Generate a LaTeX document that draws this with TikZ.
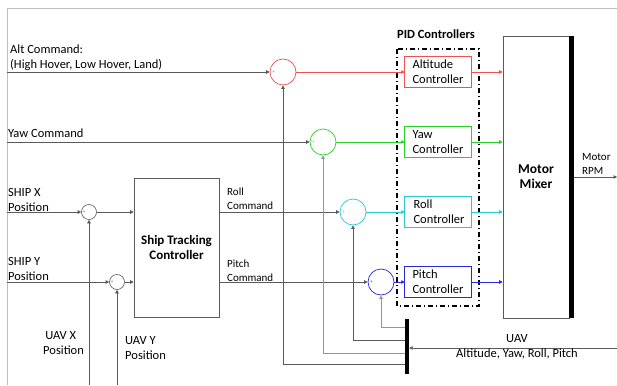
\documentclass[tikz,border=0pt]{standalone}
\usepackage{fontspec}
\setmainfont{Carlito}
\usetikzlibrary{arrows.meta}
\definecolor{lred}{RGB}{240,80,80}
\definecolor{lgreen}{RGB}{40,210,40}
\definecolor{lcyan}{RGB}{40,200,210}
\definecolor{lblue}{RGB}{40,40,220}
\definecolor{dline}{RGB}{90,90,90}
\definecolor{gline}{RGB}{150,150,150}
\tikzset{
  every node/.style={font=\fontsize{12.5}{15}\selectfont, inner sep=0pt},
  sig/.style={draw=dline, line width=0.6pt},
  lsig/.style={draw=gline, line width=0.8pt},
  arr/.style={-{Triangle[length=3.5pt,width=3.5pt]}},
  csig/.style={draw=#1, line width=0.8pt, -{Triangle[length=3.5pt,width=3.5pt,fill=#1]}},
  sumc/.style={circle, draw=#1, line width=0.7pt, minimum size=26pt},
  smallsum/.style={circle, draw=dline, line width=0.6pt, minimum size=15pt},
  ctrlbox/.style={rectangle, minimum width=66pt, minimum height=30pt, align=left},
  boxline/.style={draw=#1, line width=0.9pt},
  sign/.style={font=\fontsize{5}{5}\selectfont, text=#1},
  lbl/.style={align=left, anchor=west},
  smalllbl/.style={align=left, anchor=west, font=\fontsize{11}{14}\selectfont},
}
\begin{document}
\begin{tikzpicture}[x=1pt,y=-1pt]
\useasboundingbox (0,0) rectangle (617,385);
% frame
\draw[gray!50, line width=0.8pt] (7,385) -- (7,8) -- (617,8);

% sum junctions
\node[sumc=lred]   (sa) at (283,72) {};
\node[sumc=lgreen] (sy) at (323,142) {};
\node[sumc=lcyan]  (sr) at (353,212) {};
\node[sumc=lblue]  (sp) at (381,282) {};
\foreach \n/\c in {sa/lred, sy/lgreen, sr/lcyan, sp/lblue}{
  \node[sign=\c] at ([xshift=4pt]\n.west) {+};
  \node[sign=\c] at ([yshift=-4pt]\n.south) {-};
}
\node[smallsum] (sx) at (89,212) {};
\node[smallsum] (sxy) at (117,282) {};
\foreach \n in {sx, sxy}{
  \node[sign=dline] at ([xshift=3pt]\n.west) {+};
  \node[sign=dline] at ([yshift=-3pt]\n.south) {-};
}

% controllers
\node[ctrlbox] (ac) at (438,72)  {Altitude\\Controller};
\node[ctrlbox] (yc) at (438,142) {Yaw\\Controller};
\node[ctrlbox] (rc) at (438,212) {\,Roll\\\,Controller};
\node[ctrlbox] (pc) at (438,282) {Pitch\\Controller};
\draw[boxline=lred]   (ac.south west) rectangle (ac.north east);
\draw[boxline=lgreen] (yc.south west) rectangle (yc.north east);
\draw[boxline=lcyan]  (rc.south west) rectangle (rc.north east);
\draw[boxline=lblue]  (pc.south west) rectangle (pc.north east);

% PID group
\draw[black, line width=1.5pt, dash pattern=on 5pt off 3pt on 1pt off 3pt] (397,49) rectangle (479,306);
\node[font=\fontsize{12.5}{15}\selectfont\bfseries] (pidl) at (436,34) {PID Controllers};

% motor mixer
\node[rectangle, draw=dline, line width=0.6pt, minimum width=66pt, minimum height=282pt, align=center,
  font=\fontsize{13.5}{15}\selectfont\bfseries] (mm) at (536,177) {Motor\\Mixer};
\node[rectangle, fill=black, minimum width=5pt, minimum height=282pt] (mb) at (571.5,177) {};

% ship tracking
\node[rectangle, draw=dline, line width=0.6pt, minimum width=85pt, minimum height=139pt, align=center,
  font=\fontsize{13}{15}\selectfont\bfseries] (st) at (176.5,247.5) {Ship Tracking\\Controller};

% feedback bar
\node[rectangle, fill=black, minimum width=4pt, minimum height=55pt] (fb) at (407,346.5) {};

% coordinates
\coordinate (altin) at (7,72);
\coordinate (yawin) at (7,142);
\coordinate (sxin) at (7,212);
\coordinate (syin) at (7,282);
\coordinate (uxin) at (89,385);
\coordinate (uyin) at (117,385);
\coordinate (uavin) at (617,348);
\coordinate (rpm) at (617,177);

% inputs
\draw[sig, arr] (altin) -- (sa.west);
\draw[sig, arr] (yawin) -- (sy.west);
\draw[sig, arr] (sxin) -- (sx.west);
\draw[sig, arr] (syin) -- (sxy.west);
\draw[sig, arr] (uxin) -- (sx.south);
\draw[sig, arr] (uyin) -- (sxy.south);
\draw[sig, arr] (sx.east) -- (sx.east -| st.west);
\draw[sig, arr] (sxy.east) -- (sxy.east -| st.west);
\draw[sig, arr] (st.east |- sr.west) -- (sr.west);
\draw[sig, arr] (st.east |- sp.west) -- (sp.west);

% colored paths
\draw[csig=lred]   (sa.east) -- (ac.west);
\draw[csig=lgreen] (sy.east) -- (yc.west);
\draw[csig=lcyan]  (sr.east) -- (rc.west);
\draw[csig=lblue]  (sp.east) -- (pc.west);
\draw[csig=lred]   (ac.east) -- (ac.east -| mm.west);
\draw[csig=lgreen] (yc.east) -- (yc.east -| mm.west);
\draw[csig=lcyan]  (rc.east) -- (rc.east -| mm.west);
\draw[csig=lblue]  (pc.east) -- (pc.east -| mm.west);

% output
\draw[sig, arr] (mb.east |- rpm) -- (rpm);

% feedback
\draw[sig, arr] (uavin) -- (fb.east |- uavin);
\draw[lsig, arr] (fb.west |- 0,327) -| (sp.south);
\draw[sig, arr]  (fb.west |- 0,340) -| (sr.south);
\draw[lsig, arr] (fb.west |- 0,353) -| (sy.south);
\draw[sig, arr]  (fb.west |- 0,364) -| (sa.south);

% labels
\node[lbl] (l1) at (10,57.5) {Alt Command:\\(High Hover, Low Hover, Land)};
\node[lbl] (l2) at (8,133) {Yaw Command};
\node[lbl] (l3) at (8,199.5) {SHIP X\\Position};
\node[lbl] (l4) at (8,268.5) {SHIP Y\\Position};
\node[lbl] (l5) at (43,343) {\,UAV X\\Position};
\node[lbl] (l6) at (125,348) {UAV Y\\Position};
\node[smalllbl] (l7) at (227,199) {Roll\\Command};
\node[smalllbl] (l8) at (227,271) {Pitch\\Command};
\node[smalllbl] (l9) at (582,164) {Motor\\RPM};
\node[align=center] (l10) at (517,346.5) {UAV\\Altitude, Yaw, Roll, Pitch};
\end{tikzpicture}
\end{document}
